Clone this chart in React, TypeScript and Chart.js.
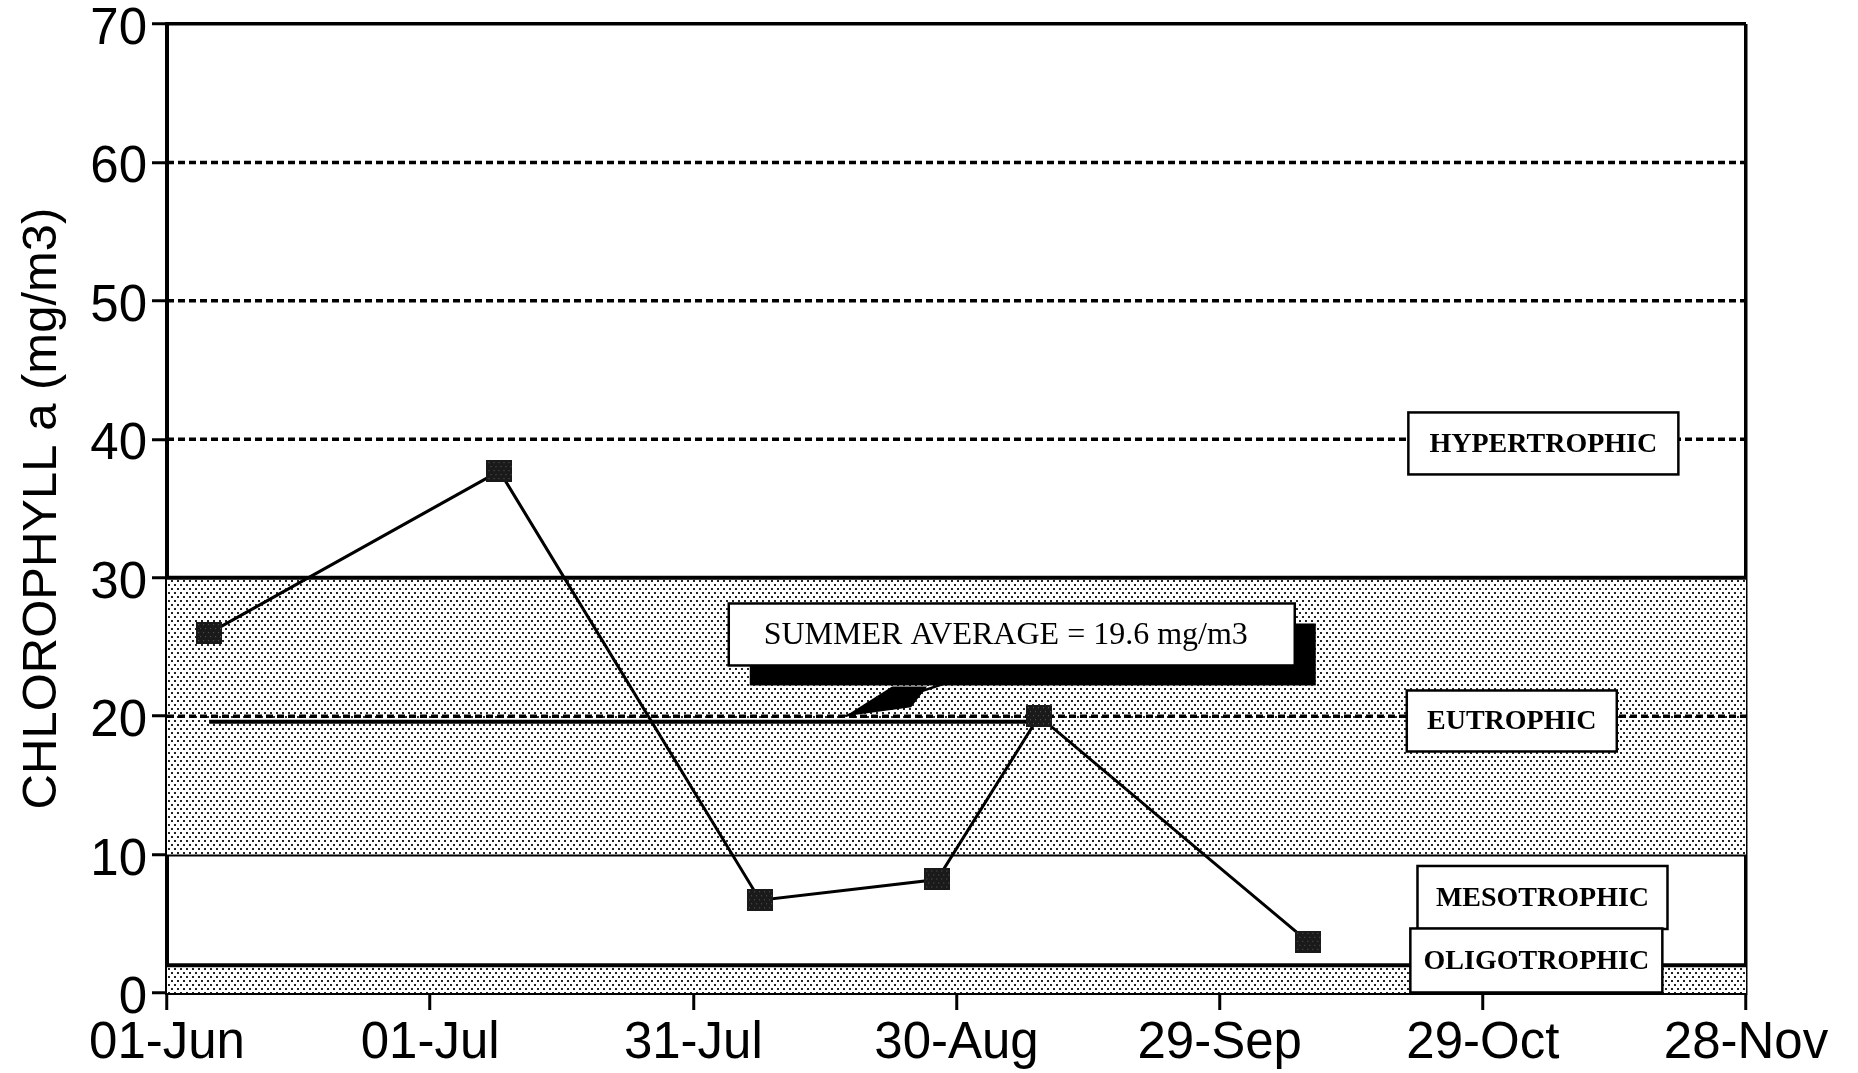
import React, { useEffect, useRef } from "react";
import { Chart, registerables } from "chart.js";

Chart.register(...registerables);

// ---------- data ----------
const xTickLabels = ["01-Jun", "01-Jul", "31-Jul", "30-Aug", "29-Sep", "29-Oct", "28-Nov"];
const xStepDays = 30;
const xMaxDays = 180;
const yMax = 70;
const yStep = 10;

// days after 01-Jun, chlorophyll a (mg/m3)
const sampleDays = [4.8, 37.9, 67.6, 87.8, 99.4, 130.1];
const chlorophyll = [26.0, 37.7, 6.7, 8.2, 20.0, 3.7];

const summerAverage = 19.6;
const averageSpanDays = [4.8, 99.4];

const dashedLevels = [60, 50, 40, 20];
const eutrophicBand = [10, 30];
const oligotrophicBand = [0, 2];

const trophicLabels = ["HYPERTROPHIC", "EUTROPHIC", "MESOTROPHIC", "OLIGOTROPHIC"];
const trophicLabelDays = [156.9, 153.3, 156.8, 156.1];
const trophicLabelValues = [39.7, 19.65, 6.9, 2.35];

const summerLabel = "SUMMER AVERAGE = 19.6 mg/m3";
const summerLabelDay = 96.3;
const summerLabelValue = 25.9;
const pointerTipDay = 77.3;
const pointerTipValue = 20.0;

const yTitle = "CHLOROPHYLL a (mg/m3)";

// ---------- styles ----------
const SANS = "'Liberation Sans', Arial, Helvetica, sans-serif";
const SERIF = "'Liberation Serif', 'Times New Roman', Times, serif";
const trophicBoxSizes = [
  [270, 62],
  [210, 61],
  [250, 63],
  [252, 64],
];
const summerBoxSize = [566, 62];
const shadowOffset = [21, 20];

function makeStipple(ctx: CanvasRenderingContext2D): CanvasPattern | string {
  const c = document.createElement("canvas");
  c.width = 6;
  c.height = 8;
  const g = c.getContext("2d")!;
  g.fillStyle = "#ffffff";
  g.fillRect(0, 0, 6, 8);
  g.fillStyle = "#222222";
  g.fillRect(0, 0, 2, 2);
  g.fillRect(3, 4, 2, 2);
  return ctx.createPattern(c, "repeat") ?? "#d4d4d4";
}

function makeMarker(): HTMLCanvasElement {
  const c = document.createElement("canvas");
  c.width = 26;
  c.height = 22;
  const g = c.getContext("2d")!;
  g.fillStyle = "#1a1a1a";
  g.fillRect(0, 0, 26, 22);
  g.fillStyle = "#5a5a5a";
  for (let yy = 2; yy < 21; yy += 4) {
    for (let xx = (yy % 8 === 2 ? 2 : 4); xx < 25; xx += 5) {
      g.fillRect(xx, yy, 1, 1);
    }
  }
  return c;
}

const hLine = (level: number) => [
  { x: 0, y: level },
  { x: xMaxDays, y: level },
];

const annotationPlugin = {
  id: "trophicAnnotations",
  afterDatasetsDraw(chart: any) {
    const { ctx, scales } = chart;
    const xs = scales.x;
    const ys = scales.y;
    ctx.save();

    // summer average callout
    const bx = xs.getPixelForValue(summerLabelDay);
    const by = ys.getPixelForValue(summerLabelValue);
    const tx = xs.getPixelForValue(pointerTipDay);
    const ty = ys.getPixelForValue(pointerTipValue);
    const [w, h] = summerBoxSize;
    const [sx, sy] = shadowOffset;
    const left = bx - w / 2;
    const top = by - h / 2;

    ctx.strokeStyle = "#000";
    ctx.lineWidth = 2.5;
    ctx.beginPath();
    ctx.moveTo(tx, ty);
    ctx.lineTo(left + 265, top + h + 2);
    ctx.stroke();

    ctx.fillStyle = "#000";
    ctx.beginPath();
    ctx.moveTo(tx, ty);
    ctx.lineTo(tx + 47, top + h + sy + 1);
    ctx.lineTo(tx + 82, top + h + sy + 1);
    ctx.lineTo(tx + 66, ty - 9);
    ctx.closePath();
    ctx.fill();

    ctx.fillRect(left + sx, top + sy, w, h);
    ctx.fillStyle = "#fff";
    ctx.fillRect(left, top, w, h);
    ctx.lineWidth = 2.5;
    ctx.strokeRect(left, top, w, h);

    ctx.fillStyle = "#000";
    ctx.font = `32px ${SERIF}`;
    ctx.textAlign = "center";
    ctx.textBaseline = "middle";
    ctx.fillText(summerLabel, bx - 6, by + 1);

    // trophic state boxes
    ctx.font = `bold 28px ${SERIF}`;
    trophicLabels.forEach((label, i) => {
      const cx = xs.getPixelForValue(trophicLabelDays[i]);
      const cy = ys.getPixelForValue(trophicLabelValues[i]);
      const [bw, bh] = trophicBoxSizes[i];
      ctx.fillStyle = "#fff";
      ctx.fillRect(cx - bw / 2, cy - bh / 2, bw, bh);
      ctx.strokeStyle = "#000";
      ctx.lineWidth = 2.5;
      ctx.strokeRect(cx - bw / 2, cy - bh / 2, bw, bh);
      ctx.fillStyle = "#000";
      ctx.fillText(label, cx, cy + 1);
    });

    ctx.restore();
  },
};

export default function App() {
  const ref = useRef<HTMLCanvasElement>(null);

  useEffect(() => {
    document.body.style.margin = "0";
    document.body.style.overflow = "hidden";
    const canvas = ref.current!;
    const ctx2d = canvas.getContext("2d")!;
    const stipple = makeStipple(ctx2d);
    const marker = makeMarker();

    const seriesData = sampleDays.map((d, i) => ({ x: d, y: chlorophyll[i] }));
    const averageData = averageSpanDays.map((d) => ({ x: d, y: summerAverage }));

    const dashedSets = dashedLevels.map((lvl) => ({
      label: `level ${lvl}`,
      data: hLine(lvl),
      borderColor: "#000",
      borderWidth: 3.5,
      borderDash: [7, 4],
      pointRadius: 0,
      fill: false,
      order: 2,
    }));

    const firstBandIndex = 2 + dashedSets.length;

    const chart = new Chart(canvas, {
      type: "line",
      data: {
        datasets: [
          {
            label: "Chlorophyll a",
            data: seriesData,
            borderColor: "#000",
            borderWidth: 3,
            pointStyle: marker as any,
            pointRadius: 12,
            fill: false,
            order: 0,
          },
          {
            label: "Summer average",
            data: averageData,
            borderColor: "#000",
            borderWidth: 4,
            pointRadius: 0,
            fill: false,
            order: 1,
          },
          ...dashedSets,
          {
            label: "Eutrophic upper",
            data: hLine(eutrophicBand[1]),
            borderColor: "#000",
            borderWidth: 4,
            pointRadius: 0,
            backgroundColor: stipple as any,
            fill: firstBandIndex + 1,
            order: 3,
          },
          {
            label: "Eutrophic lower",
            data: hLine(eutrophicBand[0]),
            borderColor: "#000",
            borderWidth: 4,
            pointRadius: 0,
            fill: false,
            order: 3,
          },
          {
            label: "Oligotrophic upper",
            data: hLine(oligotrophicBand[1]),
            borderColor: "#000",
            borderWidth: 4,
            pointRadius: 0,
            backgroundColor: stipple as any,
            fill: "origin",
            order: 3,
          },
        ] as any,
      },
      options: {
        responsive: false,
        animation: false,
        events: [],
        layout: { padding: { left: 0, top: 24, right: 112, bottom: 0 } },
        plugins: {
          legend: { display: false },
          tooltip: { enabled: false },
        },
        scales: {
          x: {
            type: "linear",
            min: 0,
            max: xMaxDays,
            afterFit(scale: any) {
              scale.height = 80;
              scale.paddingLeft = 0;
              scale.paddingRight = 0;
            },
            ticks: {
              stepSize: xStepDays,
              autoSkip: false,
              maxRotation: 0,
              minRotation: 0,
              padding: 8,
              color: "#000",
              font: { family: SANS, size: 51, lineHeight: 1 },
              callback: (value: any) => {
                const v = Number(value);
                return v % xStepDays === 0 ? xTickLabels[Math.round(v / xStepDays)] : "";
              },
            },
            grid: {
              drawOnChartArea: true,
              color: (c: any) => (c.tick && c.tick.value === xMaxDays ? "#000" : "rgba(0,0,0,0)"),
              lineWidth: 3.5,
              tickColor: "#000",
              tickWidth: 3,
              tickLength: 17,
            },
            border: { display: true, color: "#000", width: 4 },
          },
          y: {
            type: "linear",
            min: 0,
            max: yMax,
            afterFit(scale: any) {
              scale.width = 167;
              scale.paddingTop = 0;
              scale.paddingBottom = 0;
            },
            ticks: {
              stepSize: yStep,
              padding: 5,
              labelOffset: 6,
              color: "#000",
              font: { family: SANS, size: 51, lineHeight: 1 },
            },
            grid: {
              drawOnChartArea: true,
              color: (c: any) => (c.tick && c.tick.value === yMax ? "#000" : "rgba(0,0,0,0)"),
              lineWidth: 3.5,
              tickColor: "#000",
              tickWidth: 3,
              tickLength: 15,
            },
            border: { display: true, color: "#000", width: 4 },
            title: {
              display: true,
              text: yTitle,
              color: "#000",
              font: { family: SANS, size: 49, lineHeight: 1 },
              padding: { top: 18, bottom: 0 },
            },
          },
        },
      } as any,
      plugins: [annotationPlugin],
    });

    return () => chart.destroy();
  }, []);

  return (
    <div style={{ width: 1858, height: 1073, background: "#fff" }}>
      <canvas ref={ref} width={1858} height={1073} style={{ display: "block" }} />
    </div>
  );
}
